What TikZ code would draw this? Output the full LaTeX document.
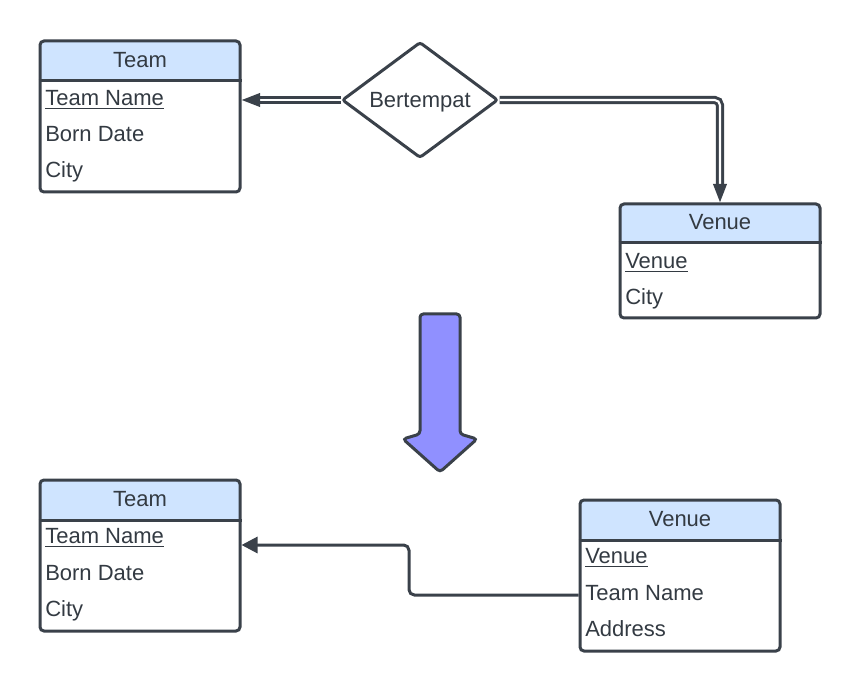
\documentclass[tikz,border=0pt]{standalone}
\usepackage{fontspec}
\setmainfont{Liberation Sans}
\usetikzlibrary{shapes.geometric,arrows.meta,fit}
\definecolor{ink}{HTML}{3A414A}
\definecolor{txt}{HTML}{333A42}
\definecolor{hdr}{HTML}{CFE4FF}
\definecolor{purp}{HTML}{9090FF}
\newcommand\erbox[7]{% name x1 y1 x2 y2 ydiv title
  \fill[hdr] (#2,#6) [rounded corners=3pt] -- (#2,#3) -- (#4,#3) [sharp corners] -- (#4,#6) -- cycle;
  \node[entbox, fit={(#2,#3) (#4,#5)}] (#1) {};
  \draw[ink, line width=2.25pt] (#1.west |- 0,#6) -- (#1.east |- 0,#6);
  \node[ttl] (#1-title) at ({(#2+#4)/2},{(#3+#6)/2-1.5}) {#7};
}
\begin{document}
\begin{tikzpicture}[x=0.75pt,y=-0.75pt,
  every node/.style={font=\fontsize{16.5pt}{19pt}\selectfont, text=txt},
  entbox/.style={draw=ink, line width=2.25pt, rounded corners=3pt, inner sep=0pt},
  ttl/.style={inner sep=0pt, text height=11.8pt, text depth=0pt},
  row/.style={inner sep=0pt, anchor=west, text height=11.8pt, text depth=0pt},
  dbl/.style={draw=ink, line width=2.25pt, double=white, double distance=1.6pt, rounded corners=4pt},
  conn/.style={draw=ink, line width=2.25pt, rounded corners=4pt}]
\useasboundingbox (0,0) rectangle (860,691);

% top Team
\erbox{team1}{40}{41}{240}{192}{81}{Team}
\node[row] (t1a) at (45,98) {\underline{Team Name}};
\node[row] (t1b) at (45,134) {Born Date};
\node[row] (t1c) at (45,170) {City};

% top Venue
\erbox{venue1}{620}{204}{820}{318}{243}{Venue}
\node[row] (v1a) at (625,261) {\underline{Venue}};
\node[row] (v1b) at (625,297) {City};

% relationship
\node[draw=ink, line width=2.25pt, diamond, minimum width=117pt, minimum height=87pt,
      inner sep=0pt, rounded corners=2pt] (rel) at (420,100) {};
\node[ttl] (rel-label) at (rel.center) {Bertempat};

\draw[dbl, -{Triangle[length=14pt,width=10pt]}] (rel.west) -- (rel.west -| team1.east);
\draw[dbl, -{Triangle[length=14pt,width=10pt]}] (rel.east) -| (venue1.north);

% big arrow
\draw[ink, line width=2.25pt, fill=purp, rounded corners=2.5pt]
  (420,314) -- (460,314) -- (460,434) -- (477,439) -- (440,472) -- (403,439) -- (420,434) -- cycle;

% bottom Team
\erbox{team2}{40}{480}{240}{631}{520}{Team}
\node[row] (t2a) at (45,536) {\underline{Team Name}};
\node[row] (t2b) at (45,573) {Born Date};
\node[row] (t2c) at (45,609) {City};

% bottom Venue
\erbox{venue2}{580}{500}{780}{651}{540}{Venue}
\node[row] (v2a) at (585,556) {\underline{Venue}};
\node[row] (v2b) at (585,593) {Team Name};
\node[row] (v2c) at (585,629) {Address};

\coordinate (v2link) at (580,595);
\coordinate (bend) at (409,545);
\draw[conn, -{Triangle[length=12pt,width=12pt]}] (venue2.west |- v2link) -| (bend) -- (bend -| team2.east);
\end{tikzpicture}
\end{document}
